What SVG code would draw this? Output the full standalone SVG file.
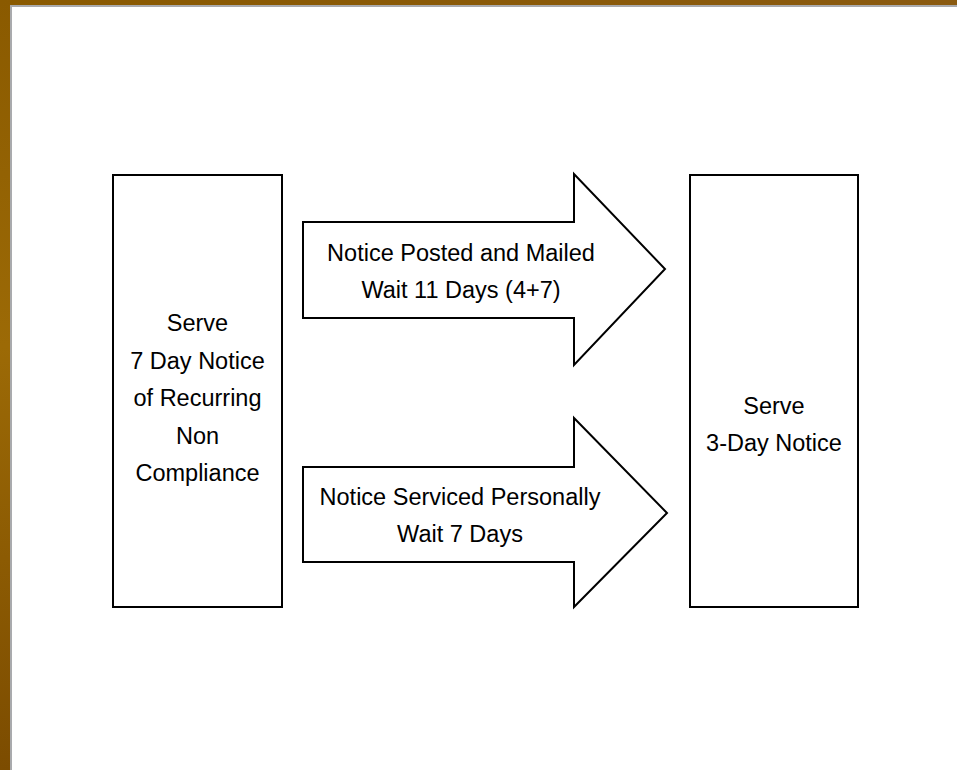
<svg xmlns="http://www.w3.org/2000/svg" width="957" height="770" viewBox="0 0 957 770">
<style>
.shape{fill:#ffffff;stroke:#000000;stroke-width:2;stroke-linejoin:miter}
.lbl{font-family:"Liberation Sans",Arial,sans-serif;font-size:23.5px;fill:#000000;text-anchor:middle}
</style>
<defs>
<linearGradient id="wood" x1="0" y1="0" x2="0" y2="1">
<stop offset="0" stop-color="#8a5a00"/>
<stop offset="0.45" stop-color="#9c6a06"/>
<stop offset="1" stop-color="#7c4c00"/>
</linearGradient>
<linearGradient id="woodTop" x1="0" y1="0" x2="1" y2="0">
<stop offset="0" stop-color="#8a5a00"/>
<stop offset="1" stop-color="#8a5a10"/>
</linearGradient>
</defs>
<rect x="0" y="0" width="957" height="770" fill="#ffffff"/>
<rect x="0" y="0" width="957" height="5" fill="url(#woodTop)"/>
<rect x="0" y="0" width="10" height="770" fill="url(#wood)"/>
<rect x="10" y="5" width="947" height="2" fill="#a9aaad"/>
<rect x="10" y="5" width="2" height="765" fill="#a9aaad"/>

<g id="connectors">
<g id="arrow-posted">
<polygon class="shape" points="303,222 574,222 574,174 665,269 574,365 574,318 303,318"/>
<text class="lbl" x="461" y="261">Notice Posted and Mailed</text>
<text class="lbl" x="461" y="298">Wait 11 Days (4+7)</text>
</g>
<g id="arrow-personal">
<polygon class="shape" points="303,467 574,467 574,418 667,513 574,607 574,562 303,562"/>
<text class="lbl" x="460" y="505">Notice Serviced Personally</text>
<text class="lbl" x="460" y="542">Wait 7 Days</text>
</g>
</g>

<g id="node-seven-day">
<rect class="shape" x="113" y="175" width="169" height="432"/>
<text class="lbl" x="197.5" y="331">Serve</text>
<text class="lbl" x="197.5" y="369">7 Day Notice</text>
<text class="lbl" x="197.5" y="406">of Recurring</text>
<text class="lbl" x="197.5" y="444">Non</text>
<text class="lbl" x="197.5" y="481">Compliance</text>
</g>

<g id="node-three-day">
<rect class="shape" x="690" y="175" width="168" height="432"/>
<text class="lbl" x="774" y="414">Serve</text>
<text class="lbl" x="774" y="451">3-Day Notice</text>
</g>
</svg>
